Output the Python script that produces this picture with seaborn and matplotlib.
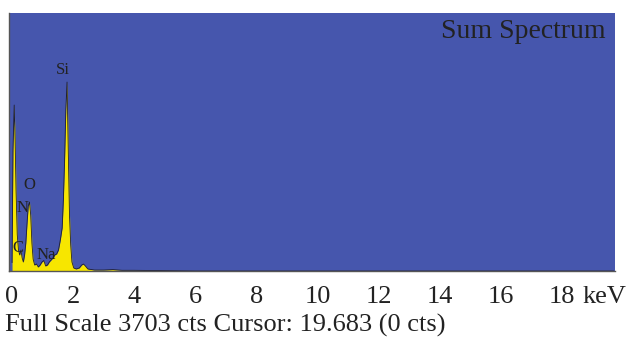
import numpy as np
import pandas as pd
import matplotlib
matplotlib.use("Agg")
import matplotlib.pyplot as plt
import seaborn as sns

# ------------------ Spectrum data ------------------
energy_kev = [0.00, 0.03, 0.07, 0.10, 0.13, 0.17, 0.21, 0.25, 0.29, 0.33,
              0.37, 0.41, 0.45, 0.49, 0.53, 0.57, 0.61, 0.65, 0.69, 0.74,
              0.80, 0.86, 0.92, 0.98, 1.04, 1.10, 1.16, 1.22, 1.28, 1.34,
              1.40, 1.46, 1.52, 1.58, 1.64, 1.68, 1.72, 1.76, 1.80, 1.84,
              1.88, 1.92, 1.96, 2.02, 2.10, 2.20, 2.28, 2.34, 2.40, 2.48,
              2.70, 3.00, 3.30, 3.60, 4.00, 5.00, 6.00, 19.70]
counts = [120, 1736, 2382, 1880, 1162, 520, 301, 230, 301, 187,
          129, 230, 400, 680, 933, 990, 804, 400, 170, 86,
          100, 57, 86, 129, 150, 72, 86, 129, 158, 187,
          230, 244, 301, 445, 617, 1019, 1593, 2310, 2712, 1736,
          804, 373, 129, 43, 29, 43, 86, 100, 72, 29,
          14, 14, 20, 10, 10, 5, 0, 0]

element_labels = ["Si", "O", "N", "C", "Na"]
label_energy = [1.67, 0.56, 0.33, 0.20, 1.11]
label_counts = [2884, 1234, 904, 330, 230]

tick_values = [0, 2, 4, 6, 8, 10, 12, 14, 16, 18]
full_scale = 3703

spec = pd.DataFrame({"energy": energy_kev, "counts": counts})

# ------------------ Plot ------------------
sns.set_style("white")
plt.rcParams["font.family"] = ["Liberation Serif", "DejaVu Serif"]

fig = plt.figure(figsize=(6.32, 3.37), dpi=100)
ax = fig.add_axes([9 / 632, 66 / 337, 606 / 632, 258 / 337])
ax.set_facecolor("#4656ad")

ax.fill_between(spec["energy"], spec["counts"], color="#f7e600", lw=0)
sns.lineplot(data=spec, x="energy", y="counts", ax=ax,
             color="#1f1f30", linewidth=0.6)

for lab, ex, cy in zip(element_labels, label_energy, label_counts):
    ax.text(ex, cy, lab, fontsize=12, color="#222222",
            ha="center", va="center")

ax.text(0.985, 0.975, "Sum Spectrum", transform=ax.transAxes,
        fontsize=20, color="#222222", ha="right", va="top")

ax.set_xlim(-0.1, 19.74)
ax.set_ylim(0, full_scale)
ax.set_xticks(tick_values)
ax.set_xticklabels([str(t) for t in tick_values])
ax.set_yticks([])
ax.set_xlabel("")
ax.set_ylabel("")
ax.tick_params(axis="x", direction="in", length=7, width=1.0,
               color="#222222", labelsize=19, pad=11, labelcolor="#222222")

for side in ["top", "right"]:
    ax.spines[side].set_visible(False)
for side in ["left", "bottom"]:
    ax.spines[side].set_color("#555555")
    ax.spines[side].set_linewidth(1.0)

fig.text(626 / 632, 1 - 297 / 337, "keV", fontsize=19, color="#222222",
         ha="right", va="center")
fig.text(5 / 632, 1 - 325 / 337, "Full Scale 3703 cts Cursor: 19.683 (0 cts)",
         fontsize=19, color="#222222", ha="left", va="center")

fig.savefig("out.png", dpi=100, facecolor="white")
